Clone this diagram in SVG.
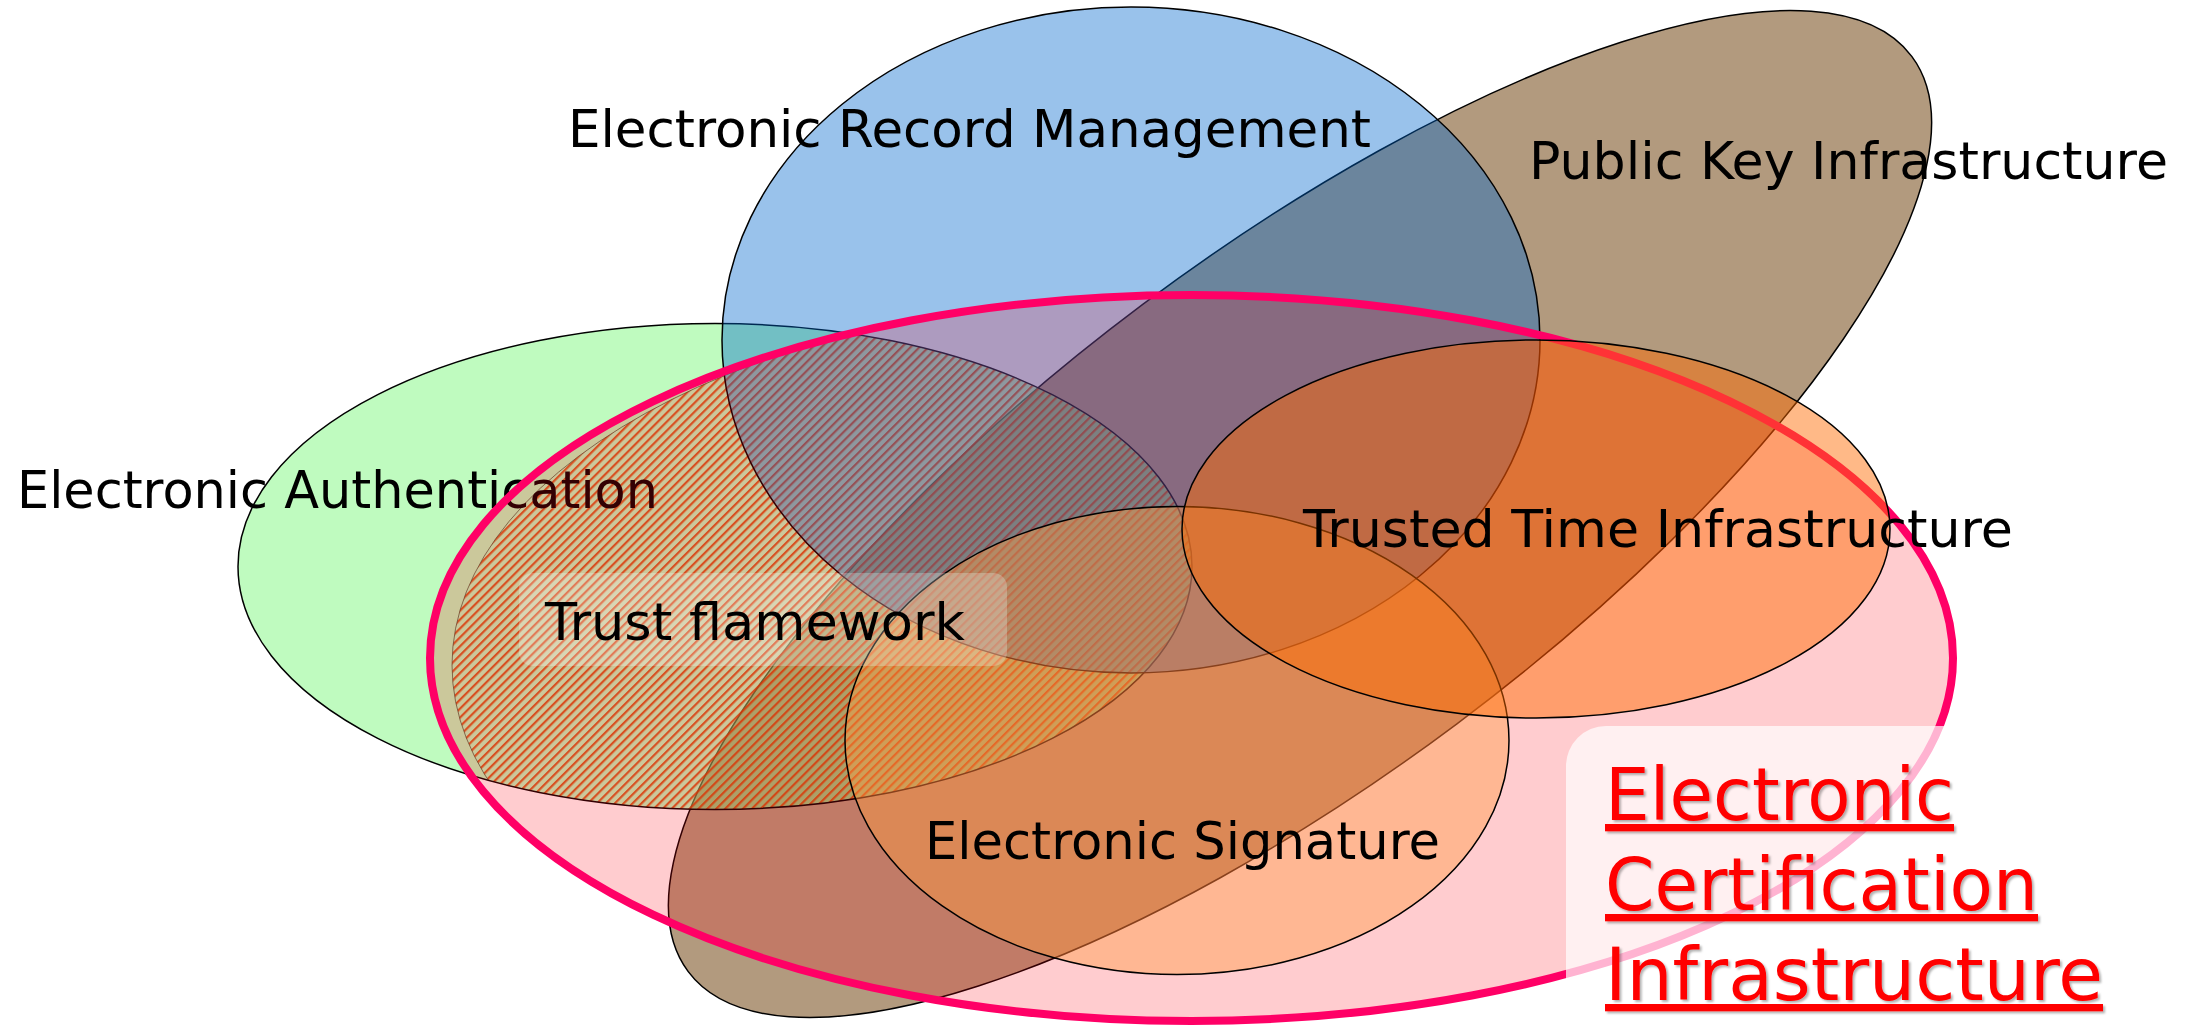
<svg xmlns="http://www.w3.org/2000/svg" width="2199" height="1027" viewBox="0 0 2199 1027">
  <defs>
    <style>
      .lbl { font-family: "DejaVu Sans", Verdana, sans-serif; font-size: 51.5px; fill: #000; }
      .eci { font-family: "DejaVu Sans", Verdana, sans-serif; font-size: 73px; fill: #ff0000; text-decoration: underline; filter: url(#shadow); }
      .outline { stroke: #000; stroke-width: 1.5; }
    </style>
    <pattern id="hatch" patternUnits="userSpaceOnUse" width="6.3" height="6.3" patternTransform="rotate(45)">
      <rect x="0" y="0" width="2.2" height="6.3" fill="#d23e00" fill-opacity="0.8"/>
    </pattern>
    <clipPath id="clipGreen">
      <ellipse cx="715" cy="566.5" rx="477" ry="243"/>
    </clipPath>
    <filter id="shadow" x="-5%" y="-10%" width="115%" height="130%">
      <feDropShadow dx="2" dy="2" stdDeviation="1" flood-color="#000" flood-opacity="0.3"/>
    </filter>
  </defs>

  <g id="public-key-infrastructure">
    <ellipse cx="1300" cy="514" rx="764" ry="262" transform="rotate(-36.8 1300 514)" fill="#7f5728" fill-opacity="0.6" class="outline"/>
  </g>

  <g id="electronic-authentication">
    <ellipse cx="715" cy="566.5" rx="477" ry="243" fill="#80f880" fill-opacity="0.5"/>
  </g>

  <g id="trust-framework-area">
    <ellipse cx="1200" cy="665" rx="748" ry="375" fill="url(#hatch)" stroke="#3d4a2c" stroke-opacity="0.7" stroke-width="1" clip-path="url(#clipGreen)"/>
  </g>

  <g id="electronic-authentication-outline">
    <ellipse cx="715" cy="566.5" rx="477" ry="243" fill="none" class="outline"/>
    <text class="lbl" x="17" y="508" textLength="641" lengthAdjust="spacingAndGlyphs">Electronic Authentication</text>
  </g>

  <g id="electronic-record-management">
    <ellipse cx="1131" cy="340" rx="409" ry="333" fill="#0066cc" fill-opacity="0.4" class="outline"/>
  </g>

  <g id="electronic-certification-infrastructure">
    <ellipse cx="1191.5" cy="658" rx="761.5" ry="363" fill="#ff0010" fill-opacity="0.2" stroke="#ff0066" stroke-width="8"/>
  </g>

  <g id="electronic-signature">
    <ellipse cx="1177" cy="740.5" rx="332" ry="234" fill="#ff9a40" fill-opacity="0.42" class="outline"/>
  </g>

  <g id="trusted-time-infrastructure">
    <ellipse cx="1536" cy="529" rx="354" ry="189" fill="#ff6a00" fill-opacity="0.47" class="outline"/>
  </g>

  <g id="trust-framework">
    <rect x="519" y="573" width="488" height="93" rx="14" fill="#ffffff" fill-opacity="0.25"/>
    <text class="lbl" x="545" y="640" textLength="420" lengthAdjust="spacingAndGlyphs">Trust flamework</text>
  </g>

  <g id="labels">
    <text class="lbl" x="568" y="147" textLength="803" lengthAdjust="spacingAndGlyphs">Electronic Record Management</text>
    <text class="lbl" x="1529" y="179" textLength="639" lengthAdjust="spacingAndGlyphs">Public Key Infrastructure</text>
    <text class="lbl" x="1303" y="547" textLength="710" lengthAdjust="spacingAndGlyphs">Trusted Time Infrastructure</text>
    <text class="lbl" x="925" y="859" textLength="515" lengthAdjust="spacingAndGlyphs">Electronic Signature</text>
  </g>

  <g id="eci-label">
    <rect x="1566" y="726" width="570" height="360" rx="40" fill="#ffffff" fill-opacity="0.7"/>
    <text class="eci" x="1605" y="820" textLength="349" lengthAdjust="spacingAndGlyphs">Electronic</text>
    <text class="eci" x="1605" y="910" textLength="433" lengthAdjust="spacingAndGlyphs">Certification</text>
    <text class="eci" x="1605" y="1000" textLength="498" lengthAdjust="spacingAndGlyphs">Infrastructure</text>
  </g>

  <g id="connectors"/>
</svg>
